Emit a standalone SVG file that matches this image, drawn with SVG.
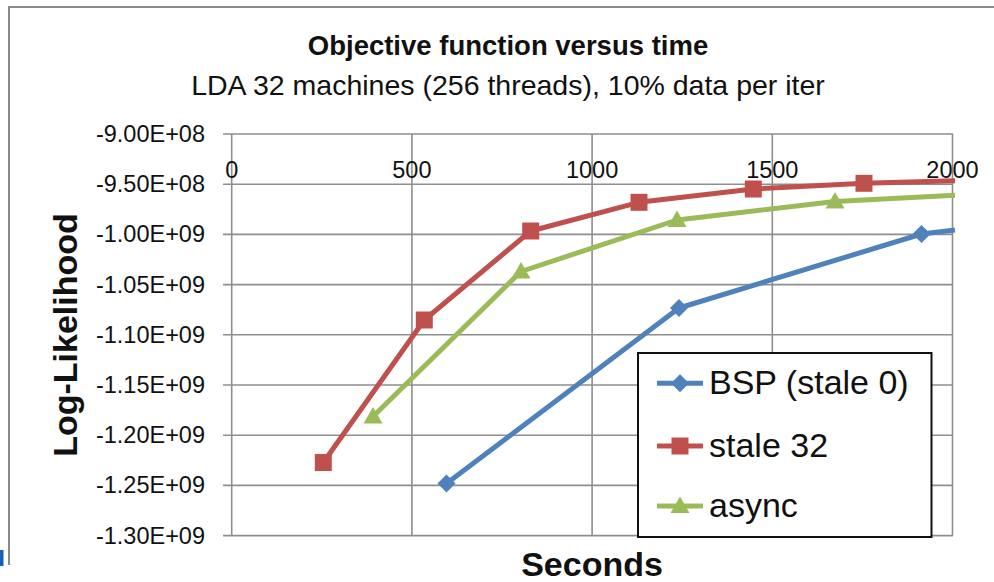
<svg xmlns="http://www.w3.org/2000/svg" xmlns:xlink="http://www.w3.org/1999/xlink" width="994" height="582" viewBox="0 0 994 582">
  <style>
    .grid { stroke: #8e8e8e; stroke-width: 1.6; fill: none; }
    .frame { stroke: #8a8a8a; stroke-width: 2; fill: none; }
    .tick { font-family: "Liberation Sans", Arial, sans-serif; font-size: 23.5px; fill: #111; }
    .ylab { text-anchor: end; }
    .xlab { text-anchor: middle; }
    .title { font-family: "Liberation Sans", Arial, sans-serif; font-weight: bold; font-size: 27.5px; fill: #111; text-anchor: middle; }
    .subtitle { font-family: "Liberation Sans", Arial, sans-serif; font-size: 28.5px; fill: #111; text-anchor: middle; }
    .axtitle { font-family: "Liberation Sans", Arial, sans-serif; font-weight: bold; font-size: 34px; fill: #111; text-anchor: middle; }
    .leg { font-family: "Liberation Sans", Arial, sans-serif; font-size: 34px; fill: #111; }
    .series { fill: none; stroke-width: 5; stroke-linejoin: round; stroke-linecap: butt; }
    .bsp { stroke: #4F81BD; }
    .s32 { stroke: #C0504D; }
    .asy { stroke: #9BBB59; }
    .mbsp { fill: #4F81BD; }
    .ms32 { fill: #C0504D; }
    .masy { fill: #9BBB59; }
  </style>
  <defs>
    <path id="diamond" d="M0,-9 L9,0 L0,9 L-9,0 Z"/>
    <path id="square" d="M-8.5,-8.5 H8.5 V8.5 H-8.5 Z"/>
    <path id="triangle" d="M0,-9.5 L9.5,7 L-9.5,7 Z"/>
  </defs>

  <rect width="994" height="582" fill="#ffffff"/>

  <!-- chart frame edges -->
  <g id="frame">
    <path class="frame" d="M9,565 V7 H994"/>
    <rect x="0" y="550" width="3.5" height="16" fill="#1462b4"/>
  </g>

  <!-- titles -->
  <g id="titles">
    <text class="title" x="508" y="55">Objective function versus time</text>
    <text class="subtitle" x="508" y="95">LDA 32 machines (256 threads), 10% data per iter</text>
  </g>

  <!-- gridlines and axes -->
  <g id="grid">
    <path class="grid" d="M223,134 H953 M223,184.2 H953 M223,234.4 H953 M223,284.6 H953 M223,334.8 H953 M223,385 H953 M223,435.2 H953 M223,485.4 H953 M223,535.6 H953"/>
    <path class="grid" d="M231.7,134 V535.6 M411.9,134 V535.6 M592.1,134 V535.6 M772.3,134 V535.6 M952.5,134 V535.6"/>
  </g>

  <g id="y-axis-labels" class="tick ylab">
    <text x="205" y="142">-9.00E+08</text>
    <text x="205" y="192.2">-9.50E+08</text>
    <text x="205" y="242.4">-1.00E+09</text>
    <text x="205" y="292.6">-1.05E+09</text>
    <text x="205" y="342.8">-1.10E+09</text>
    <text x="205" y="393">-1.15E+09</text>
    <text x="205" y="443.2">-1.20E+09</text>
    <text x="205" y="493.4">-1.25E+09</text>
    <text x="205" y="543.6">-1.30E+09</text>
  </g>

  <g id="x-axis-labels" class="tick xlab">
    <text x="231.7" y="178">0</text>
    <text x="411.9" y="178">500</text>
    <text x="592.1" y="178">1000</text>
    <text x="772.3" y="178">1500</text>
    <text x="952.5" y="178">2000</text>
  </g>

  <g id="axis-titles">
    <text class="axtitle" transform="translate(77,335) rotate(-90)">Log-Likelihood</text>
    <text class="axtitle" x="592" y="576">Seconds</text>
  </g>

  <!-- data series -->
  <g id="series-bsp">
    <polyline class="series bsp" points="446.5,483.5 679,308 921.5,234 955,230"/>
    <use xlink:href="#diamond" class="mbsp" x="446.5" y="483.5"/>
    <use xlink:href="#diamond" class="mbsp" x="679" y="308"/>
    <use xlink:href="#diamond" class="mbsp" x="921.5" y="234"/>
  </g>

  <g id="series-stale32">
    <polyline class="series s32" points="323.3,462.5 424.3,320 530.7,231 639,202.3 753.3,189 864,183.3 955,180.7"/>
    <use xlink:href="#square" class="ms32" x="323.3" y="462.5"/>
    <use xlink:href="#square" class="ms32" x="424.3" y="320"/>
    <use xlink:href="#square" class="ms32" x="530.7" y="231"/>
    <use xlink:href="#square" class="ms32" x="639" y="202.3"/>
    <use xlink:href="#square" class="ms32" x="753.3" y="189"/>
    <use xlink:href="#square" class="ms32" x="864" y="183.3"/>
  </g>

  <g id="series-async">
    <polyline class="series asy" points="373,416.5 521,271.5 677,220 835,201.5 955,195.3"/>
    <use xlink:href="#triangle" class="masy" x="373" y="416.5"/>
    <use xlink:href="#triangle" class="masy" x="521" y="271.5"/>
    <use xlink:href="#triangle" class="masy" x="677" y="220"/>
    <use xlink:href="#triangle" class="masy" x="835" y="201.5"/>
  </g>

  <!-- legend -->
  <g id="legend">
    <rect x="638" y="353" width="293.5" height="184" fill="#ffffff" stroke="#111" stroke-width="2"/>
    <line class="series bsp" x1="657" y1="383.3" x2="703" y2="383.3"/>
    <use xlink:href="#diamond" class="mbsp" x="680" y="383.3"/>
    <text class="leg" x="709" y="393.5">BSP (stale 0)</text>
    <line class="series s32" x1="657" y1="446" x2="703" y2="446"/>
    <use xlink:href="#square" class="ms32" x="680" y="446"/>
    <text class="leg" x="709" y="456.5">stale 32</text>
    <line class="series asy" x1="657" y1="506" x2="703" y2="506"/>
    <use xlink:href="#triangle" class="masy" x="680" y="506"/>
    <text class="leg" x="709" y="516.5">async</text>
  </g>
</svg>
